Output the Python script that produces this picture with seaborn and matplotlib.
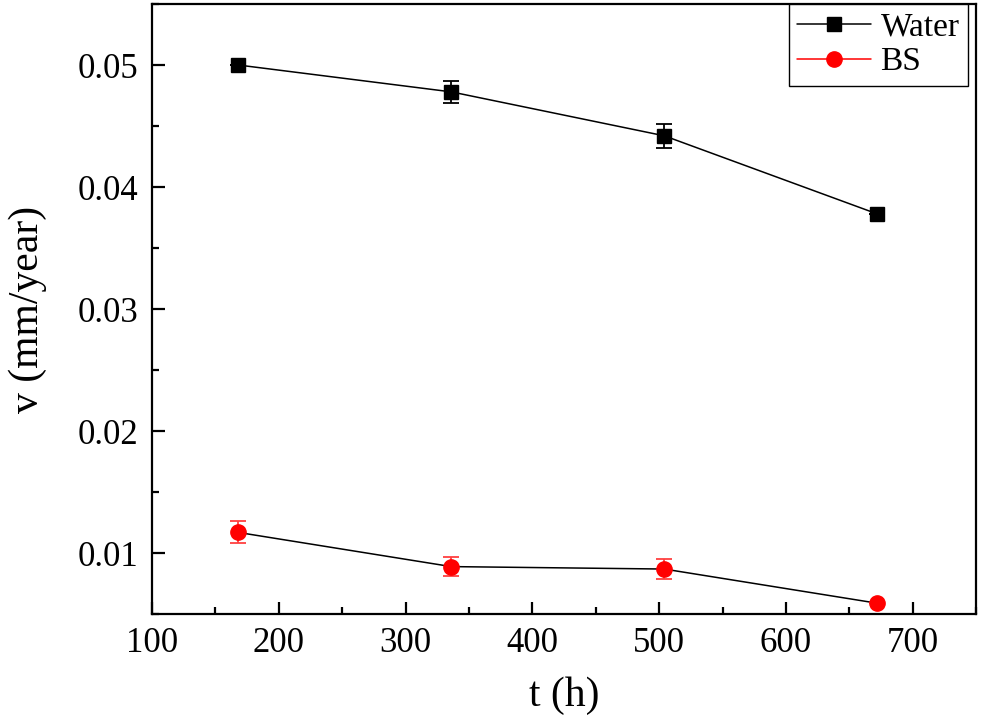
import matplotlib
matplotlib.use("Agg")
import matplotlib.pyplot as plt
import matplotlib.ticker as mticker
from matplotlib.lines import Line2D
import seaborn as sns

# data
t_h = [168, 336, 504, 672]
water_v = [0.0500, 0.0478, 0.0442, 0.0378]
water_err = [0.0, 0.0009, 0.0010, 0.0]
bs_v = [0.0117, 0.0089, 0.0087, 0.0059]
bs_err = [0.0009, 0.0008, 0.0008, 0.0]

sns.set_theme(style="ticks")
plt.rcParams["font.family"] = ["Liberation Serif", "DejaVu Serif"]
plt.rcParams["text.color"] = "black"
plt.rcParams["axes.labelcolor"] = "black"
plt.rcParams["xtick.color"] = "black"
plt.rcParams["ytick.color"] = "black"

fig, ax = plt.subplots(figsize=(9.81, 7.26), dpi=100)
fig.subplots_adjust(left=0.155, right=0.995, top=0.9945, bottom=0.154)

# connecting lines (both drawn thin and black)
sns.lineplot(x=t_h, y=water_v, color="black", linewidth=1.1, ax=ax, zorder=2)
sns.lineplot(x=t_h, y=bs_v, color="black", linewidth=1.1, ax=ax, zorder=2)

# markers with error bars
ax.errorbar(t_h, water_v, yerr=water_err, fmt="s", color="black", ms=10,
            capsize=6, elinewidth=1.3, capthick=1.3, zorder=3)
ax.errorbar(t_h, bs_v, yerr=bs_err, fmt="o", color="red", ms=11,
            capsize=6, elinewidth=1.3, capthick=1.3, ecolor="#ff4040", zorder=3)

ax.set_xlim(100, 750)
ax.set_ylim(0.005, 0.055)
ax.xaxis.set_major_locator(mticker.MultipleLocator(100))
ax.xaxis.set_minor_locator(mticker.MultipleLocator(50))
ax.yaxis.set_major_locator(mticker.MultipleLocator(0.01))
ax.yaxis.set_minor_locator(mticker.MultipleLocator(0.005))
ax.yaxis.set_major_formatter(mticker.FormatStrFormatter("%.2f"))

ax.tick_params(which="both", direction="in", width=1.6, colors="black",
               labelsize=25)
ax.tick_params(axis="x", which="major", length=9, pad=9)
ax.tick_params(axis="y", which="major", length=9, pad=10)
ax.tick_params(which="minor", length=5)

for side in ("left", "bottom", "right", "top"):
    ax.spines[side].set_visible(True)
    ax.spines[side].set_linewidth(1.6)
    ax.spines[side].set_color("black")

ax.set_xlabel("t (h)", fontsize=30, labelpad=12)
ax.set_ylabel("v (mm/year)", fontsize=30, labelpad=22)

handles = [
    Line2D([], [], color="black", marker="s", ms=10, linewidth=1.1),
    Line2D([], [], color="red", marker="o", ms=11, linewidth=1.1),
]
leg = ax.legend(handles, ["Water", "BS"], loc="upper right", fontsize=24,
                frameon=True, fancybox=False, edgecolor="black",
                borderaxespad=0.0, bbox_to_anchor=(0.99, 1.0),
                handlelength=2.2, handletextpad=0.3, borderpad=0.25,
                labelspacing=0.12)
leg.get_frame().set_linewidth(1.0)
leg.get_frame().set_alpha(1.0)

fig.savefig("out.png", dpi=100)
